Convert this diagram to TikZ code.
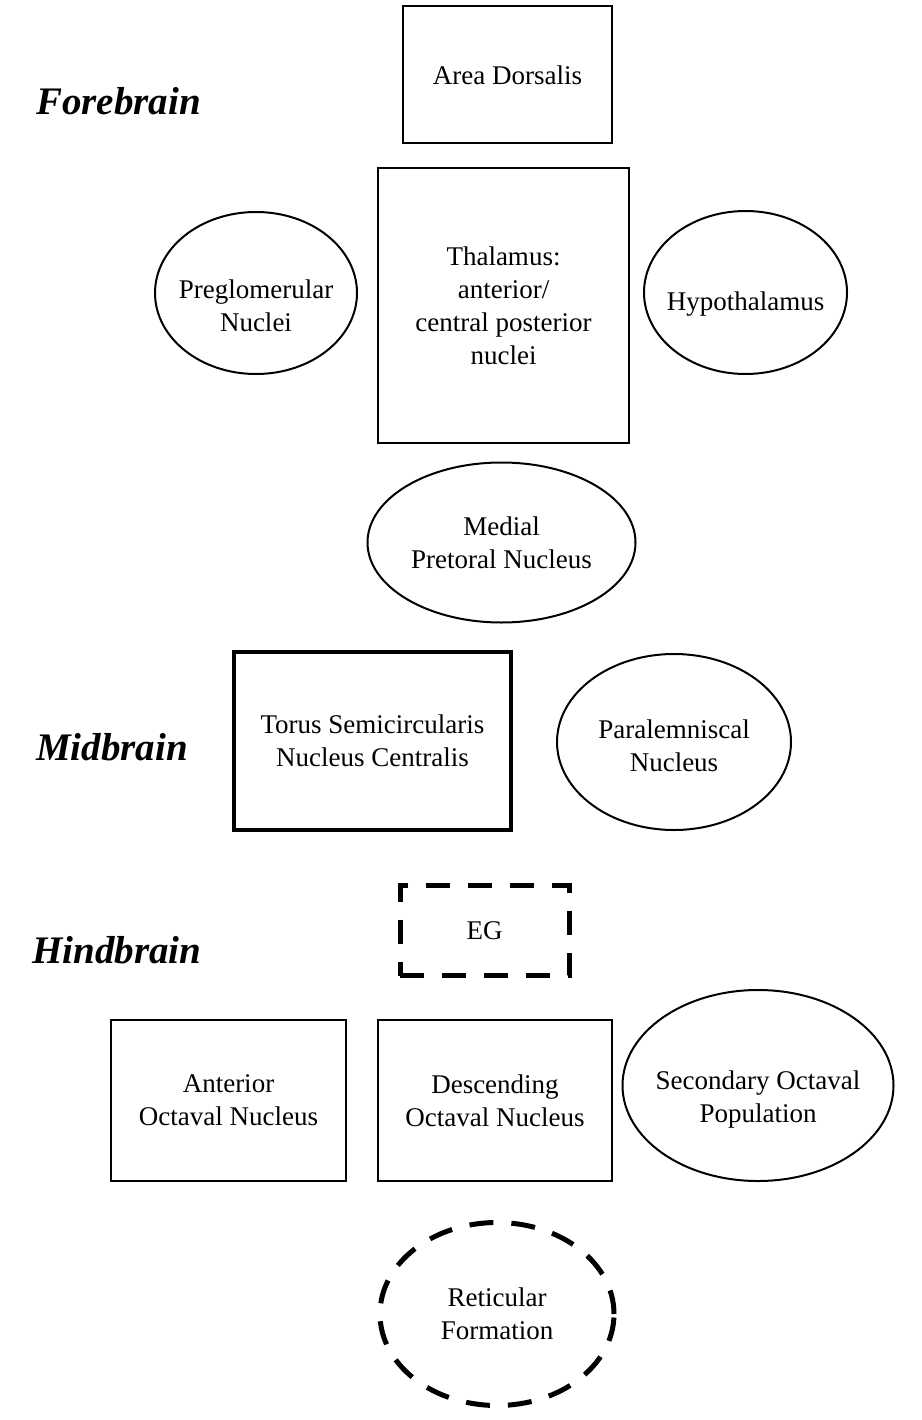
\documentclass[tikz,border=0pt]{standalone}
\usepackage{fontspec}
\setmainfont{Liberation Serif}
\usetikzlibrary{shapes.geometric}

\begin{document}
\begin{tikzpicture}[x=1pt,y=-1pt,
    region/.style={anchor=base west,inner sep=0pt,font=\fontsize{39}{46}\selectfont\bfseries\itshape},
    txt/.style={align=center,font=\fontsize{27}{33}\selectfont},
    cell/.style={draw,rectangle,line width=2pt,inner sep=0pt,txt},
    oval/.style={draw,ellipse,line width=2pt,inner sep=0pt},
    broken/.style={line width=5pt,dash pattern=on 24pt off 18pt},
]
    \useasboundingbox (0,0) rectangle (921,1420);

    \node[region] (fore) at (36,115) {Forebrain};
    \node[region] (mid)  at (36,760) {Midbrain};
    \node[region] (hind) at (32,963) {Hindbrain};

    \node[cell,minimum width=209pt,minimum height=137pt] (dorsalis) at (507.5,75) {Area Dorsalis};
    \node[cell,minimum width=251pt,minimum height=275pt] (thalamus) at (503.5,305.5) {Thalamus:\\anterior/\\central posterior\\nuclei};
    \node[oval,minimum width=202pt,minimum height=162pt,
        label={[txt,yshift=-13pt]center:Preglomerular\\Nuclei}] (preglom) at (256,293) {};
    \node[oval,minimum width=203pt,minimum height=163pt,
        label={[txt,yshift=-12pt]center:Hypothalamus}] (hypo) at (745.5,292.5) {};
    \node[oval,minimum width=268pt,minimum height=160pt,
        label={[txt]center:Medial\\Pretoral Nucleus}] (pretoral) at (501.5,542.5) {};

    \node[cell,line width=3.5pt,minimum width=277pt,minimum height=178pt] (torus) at (372.5,741) {Torus Semicircularis\\Nucleus Centralis};
    \node[oval,minimum width=234pt,minimum height=176pt,
        label={[txt,yshift=-4pt]center:Paralemniscal\\Nucleus}] (paralem) at (674,742) {};

    \node[cell,broken,minimum width=169pt,minimum height=90pt] (eg) at (484.5,930.5) {EG};
    \node[cell,minimum width=235pt,minimum height=161pt] (anterior) at (228.5,1100.5) {Anterior\\Octaval Nucleus};
    \node[cell,minimum width=234pt,minimum height=161pt] (descending) at (495,1100.5) {Descending\\Octaval Nucleus};
    \node[oval,minimum width=271pt,minimum height=191pt,
        label={[txt,yshift=-14pt]center:Secondary Octaval\\Population}] (secondary) at (758,1085.5) {};
    \node[oval,broken,minimum width=234pt,minimum height=183pt,
        label={[txt]center:Reticular\\Formation}] (reticular) at (497,1314) {};
\end{tikzpicture}
\end{document}
